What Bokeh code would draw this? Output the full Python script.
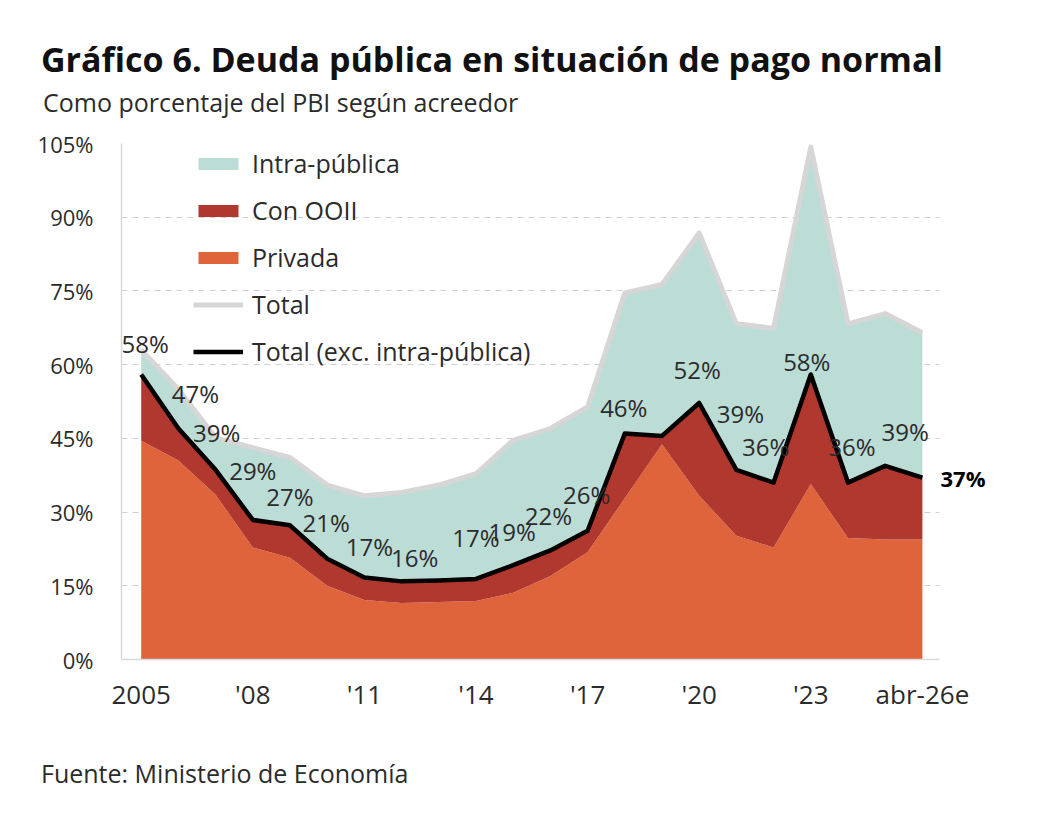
from bokeh.plotting import figure
from bokeh.models import (Range1d, FixedTicker, LabelSet, ColumnDataSource,
                          Legend, LegendItem, LinearAxis, Div)
from bokeh.layouts import column
from bokeh.core.properties import value
from bokeh.embed import file_html
from bokeh.resources import INLINE

# ---------------- data ----------------
years = list(range(2005, 2027))
privada = [44.5, 40.5, 33.5, 22.8, 20.7, 15.0, 12.1, 11.5, 11.7, 11.9, 13.6,
           17.0, 21.8, 32.8, 43.8, 33.3, 25.2, 22.8, 35.7, 24.7, 24.4, 24.4]
exc_intra = [58.0, 47.0, 38.6, 28.4, 27.3, 20.5, 16.7, 15.9, 16.1, 16.4, 19.2,
             22.2, 26.2, 46.0, 45.5, 52.2, 38.6, 36.0, 58.0, 36.0, 39.4, 37.0]
total = [63.0, 55.0, 45.1, 43.1, 41.1, 35.5, 33.3, 34.0, 35.5, 37.8, 44.6,
         47.0, 51.4, 74.6, 76.3, 86.8, 68.3, 67.4, 104.3, 68.3, 70.4, 66.5]
label_text = ["58%", "47%", "39%", "29%", "27%", "21%", "17%", "16%", "", "17%",
              "19%", "22%", "26%", "46%", "", "52%", "39%", "36%", "58%", "36%",
              "39%", "37%"]
x_tick_values = [2005, 2008, 2011, 2014, 2017, 2020, 2023, 2026]
x_tick_labels = ["2005", "'08", "'11", "'14", "'17", "'20", "'23", "abr-26e"]
y_tick_values = [0, 15, 30, 45, 60, 75, 90, 105]
series_names = ["Intra-pública", "Con OOII", "Privada", "Total",
                "Total (exc. intra-pública)"]

TITLE = "Gráfico 6. Deuda pública en situación de pago normal"
SUBTITLE = "Como porcentaje del PBI según acreedor"
SOURCE = "Fuente: Ministerio de Economía"

# ---------------- layout / style ----------------
# per-label pixel offsets (dx right, dy up) relative to each point
label_dx = [4, 17, 1, 0, 0, -1, 5, 13, 0, 0, -1, -2, -1, -1, 0, -2, 4, -8, -4, 4, 20, 0]
label_dy = [31, 35, 37, 49, 29, 36, 31, 24, 0, 41, 34, 35, 36, 26, 0, 33, 56, 36, 13, 36, 34, 0]

FONT = "Open Sans"
TEAL = "#bcdcd6"
DARKRED = "#b0382f"
ORANGE = "#df643c"
GRAY = "#d6d6d6"
TXT = "#2b2b2b"

W = 1030
FL, FT, FB = 121, 25, 60
FW, FH = 818, 516
FR = W - FL - FW

p = figure(width=W, height=FT + FH + FB,
           x_range=Range1d(2004.47, 2026.46), y_range=Range1d(0, 105),
           output_backend="svg", toolbar_location=None,
           min_border_left=FL, min_border_right=FR,
           min_border_top=FT, min_border_bottom=FB)
p.outline_line_color = None
p.background_fill_color = "white"

r_priv = p.varea(x=years, y1=[0] * len(years), y2=privada, fill_color=ORANGE)
r_ooii = p.varea(x=years, y1=privada, y2=exc_intra, fill_color=DARKRED)
r_intra = p.varea(x=years, y1=exc_intra, y2=total, fill_color=TEAL)
r_total = p.line(years, total, line_color=GRAY, line_width=5, line_join="round")
r_exc = p.line(years, exc_intra, line_color="black", line_width=4.5, line_join="round")

# axes
p.xaxis.ticker = FixedTicker(ticks=x_tick_values)
p.xaxis.major_label_overrides = {v: t for v, t in zip(x_tick_values, x_tick_labels)}
p.yaxis.ticker = FixedTicker(ticks=y_tick_values)
p.yaxis.major_label_overrides = {v: f"{v}%" for v in y_tick_values}
for ax in (p.xaxis, p.yaxis):
    ax.axis_line_color = "#d9d9d9"
    ax.axis_line_width = 1.5
    ax.major_tick_line_color = None
    ax.minor_tick_line_color = None
    ax.major_tick_in = 0
    ax.major_tick_out = 0
    ax.major_label_text_font = FONT
    ax.major_label_text_color = TXT
p.xaxis.major_label_text_font_size = "26px"
p.yaxis.major_label_text_font_size = "22px"
p.xaxis.major_label_standoff = 16
p.yaxis.major_label_standoff = 28

# right-hand axis that carries only the final value label
last_axis = LinearAxis(ticker=FixedTicker(ticks=[exc_intra[-1]]),
                       major_label_overrides={exc_intra[-1]: label_text[-1]})
last_axis.axis_line_color = None
last_axis.major_tick_line_color = None
last_axis.minor_tick_line_color = None
last_axis.major_tick_in = 0
last_axis.major_tick_out = 0
last_axis.major_label_standoff = 1
last_axis.major_label_text_font = FONT
last_axis.major_label_text_font_size = "22px"
last_axis.major_label_text_font_style = "bold"
last_axis.major_label_text_color = "black"
p.add_layout(last_axis, "right")

p.xgrid.grid_line_color = None
p.ygrid.ticker = FixedTicker(ticks=y_tick_values[1:])
p.ygrid.grid_line_color = "#cfcfcf"
p.ygrid.grid_line_dash = "6 5"
p.ygrid.grid_line_width = 1

# data labels
idx = [i for i, t in enumerate(label_text) if t and years[i] != 2026]
src = ColumnDataSource(dict(
    x=[years[i] for i in idx], y=[exc_intra[i] for i in idx],
    text=[label_text[i] for i in idx],
    dx=[label_dx[i] for i in idx], dy=[label_dy[i] for i in idx]))
p.add_layout(LabelSet(x="x", y="y", text="text", source=src,
                      x_offset="dx", y_offset="dy",
                      text_align="center", text_baseline="middle",
                      text_font=value(FONT), text_font_size="24px",
                      text_color=TXT))

# legend
legend = Legend(items=[LegendItem(label=n, renderers=[r]) for n, r in
                       zip(series_names, [r_intra, r_ooii, r_priv, r_total, r_exc])],
                location=(72, 291))
legend.glyph_width = 50
legend.glyph_height = 15
legend.label_height = 34
legend.spacing = 13
legend.padding = 0
legend.margin = 0
legend.label_standoff = 9
legend.border_line_color = None
legend.background_fill_alpha = 0
legend.label_text_font = FONT
legend.label_text_font_size = "25px"
legend.label_text_color = TXT
p.add_layout(legend)

# title, subtitle and source as page text
base = "font-family:'Open Sans';white-space:nowrap;"
header = Div(width=W, height=108, text=(
    f'<div style="{base}font-weight:bold;font-size:34px;line-height:46px;'
    f'color:#111111;margin:31px 0 0 36px;">{TITLE}</div>'
    f'<div style="{base}font-size:25px;line-height:34px;color:{TXT};'
    f'margin:3px 0 0 38px;">{SUBTITLE}</div>'))
footer = Div(width=W, height=80, text=(
    f'<div style="{base}font-size:25px;line-height:34px;color:{TXT};'
    f'margin:32px 0 0 36px;">{SOURCE}</div>'))

page = column(header, p, footer, spacing=0)
open("out.html", "w").write(file_html(page, INLINE))
